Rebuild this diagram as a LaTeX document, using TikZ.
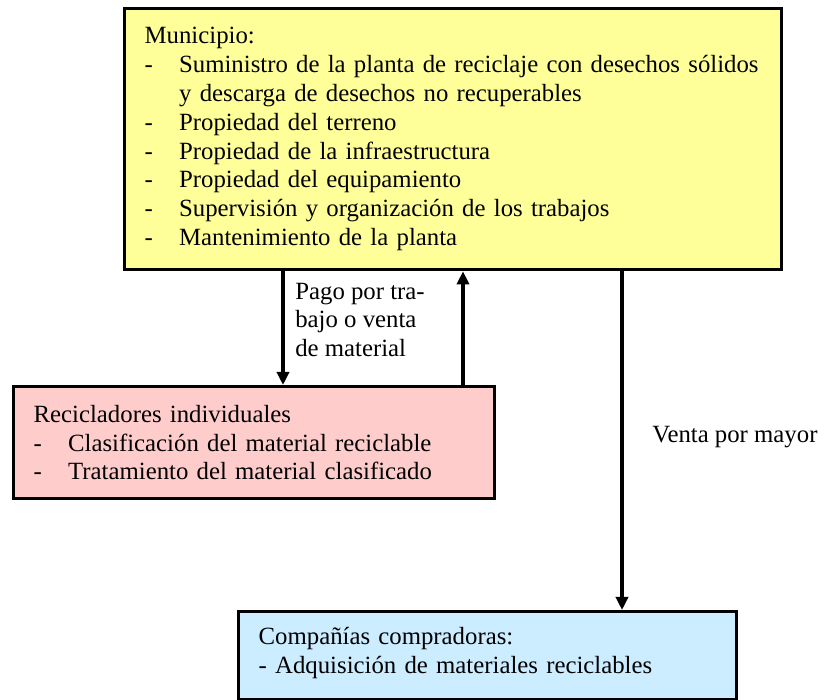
\documentclass[tikz,border=0pt]{standalone}
\usepackage{fontspec}
\setmainfont{Liberation Serif}
\usetikzlibrary{arrows.meta}
\definecolor{munifill}{HTML}{FFFF99}
\definecolor{recifill}{HTML}{FFCCCC}
\definecolor{compfill}{HTML}{CCECFF}
\tikzset{
  box/.style={draw=black, line width=1.9pt, rectangle, anchor=north west, align=left, inner xsep=0.4cm, inner ysep=0pt, font=\fontsize{14.1}{16.4}\selectfont},
  flow/.style={-{Triangle[length=0.26cm, width=0.24cm]}, line width=1.9pt},
  lbl/.style={align=left, inner sep=0pt, anchor=west, font=\fontsize{14.1}{16.4}\selectfont}
}
\newcommand{\itm}[1]{\makebox[0.69cm][l]{-}\mbox{#1}}
\newcommand{\cont}[1]{\makebox[0.69cm][l]{}\mbox{#1}}

\begin{document}
\begin{tikzpicture}
\useasboundingbox (0,0) rectangle (16.48,14);
\node[box, fill=munifill, minimum height=5.22cm, text width=12.34cm] (muni) at (2.46,13.86) {Municipio:\\
\itm{Suministro de la planta de reciclaje con desechos sólidos}\\
\cont{y descarga de desechos no recuperables}\\
\itm{Propiedad del terreno}\\
\itm{Propiedad de la infraestructura}\\
\itm{Propiedad del equipamiento}\\
\itm{Supervisión y organización de los trabajos}\\
\itm{Mantenimiento de la planta}};
\node[box, fill=recifill, minimum height=2.24cm, text width=8.82cm] (recic) at (0.24,6.3) {Recicladores individuales\\
\itm{Clasificación del material reciclable}\\
\itm{Tratamiento del material clasificado}};
\node[box, fill=compfill, minimum height=1.76cm, text width=9.16cm] (comp) at (4.74,1.8) {Compañías compradoras:\\
- Adquisición de materiales reciclables\rule[-0.2cm]{0pt}{0pt}};
\coordinate (dn) at (5.66,0);
\coordinate (up) at (9.26,0);
\coordinate (sell) at (12.44,0);
\draw[flow] (muni.south -| dn) -- (recic.north -| dn);
\draw[flow] (recic.north -| up) -- (muni.south -| up);
\draw[flow] (muni.south -| sell) -- (comp.north -| sell);
\node[lbl] (pago) at (5.9,7.6) {Pago por tra-\\bajo o venta\\de material};
\node[lbl] (venta) at (13.04,5.26) {Venta por mayor};
\end{tikzpicture}
\end{document}
